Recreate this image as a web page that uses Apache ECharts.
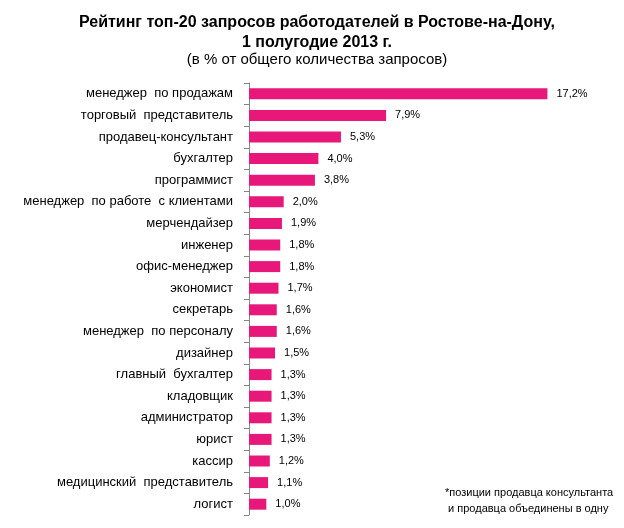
<!DOCTYPE html>
<html>
<head>
<meta charset="utf-8">
<script src="https://cdn.jsdelivr.net/npm/echarts@6/dist/echarts.min.js"></script>
<style>
  html, body { margin: 0; padding: 0; background: #fff; }
  #chart { width: 624px; height: 528px; }
</style>
</head>
<body>
<div id="chart"></div>
<script>
  // данные рейтинга, сверху вниз
  var categories = [
    'менеджер  по продажам', 'торговый  представитель', 'продавец-консультант',
    'бухгалтер', 'программист', 'менеджер  по работе  с клиентами',
    'мерчендайзер', 'инженер', 'офис-менеджер', 'экономист', 'секретарь',
    'менеджер  по персоналу', 'дизайнер', 'главный  бухгалтер', 'кладовщик',
    'администратор', 'юрист', 'кассир', 'медицинский  представитель', 'логист'
  ]
  var values = [17.2, 7.9, 5.3, 4.0, 3.8, 2.0, 1.9, 1.8, 1.8, 1.7,
                1.6, 1.6, 1.5, 1.3, 1.3, 1.3, 1.3, 1.2, 1.1, 1.0]

  var chart = echarts.init(document.getElementById('chart'))
  var font = 'Arial, "Liberation Sans", sans-serif'

  chart.setOption({
    animation: false,
    title: [
      {
        text: 'Рейтинг топ-20 запросов работодателей в Ростове-на-Дону,\n1 полугодие 2013 г.',
        left: 312, top: 8, textAlign: 'center',
        textStyle: { fontFamily: font, fontSize: 16, fontWeight: 'bold', color: '#000', lineHeight: 20 }
      },
      {
        text: '(в % от общего количества запросов)',
        left: 312, top: 47, textAlign: 'center',
        textStyle: { fontFamily: font, fontSize: 15, fontWeight: 'normal', color: '#000' }
      },
      {
        text: '*позиции продавца консультанта\n и продавца объединены в одну',
        left: 440, top: 480,
        textStyle: { fontFamily: '"Liberation Sans Narrow", ' + font, fontSize: 11, fontWeight: 'normal', color: '#000', lineHeight: 16 }
      }
    ],
    grid: { left: 249, top: 83, width: 347, height: 432, containLabel: false },
    xAxis: {
      type: 'value', min: 0, max: 20, show: false
    },
    yAxis: {
      type: 'category',
      inverse: true,
      data: categories,
      axisLine: { show: true, lineStyle: { color: '#868686' } },
      axisTick: { show: true, length: 5, lineStyle: { color: '#868686' } },
      axisLabel: { margin: 16, fontFamily: font, fontSize: 13, color: '#000' }
    },
    series: [{
      type: 'bar',
      data: values,
      barWidth: 11,
      itemStyle: { color: '#E8187B' },
      label: {
        show: true, position: 'right', distance: 9,
        fontFamily: font, fontSize: 11, color: '#000',
        formatter: function (p) { return p.value.toFixed(1).replace('.', ',') + '%' }
      }
    }]
  })
</script>
</body>
</html>
